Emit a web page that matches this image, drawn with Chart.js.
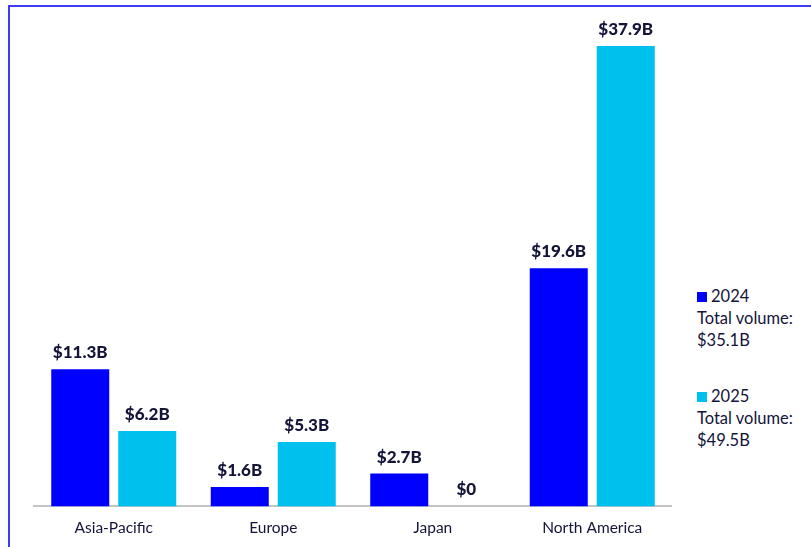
<!DOCTYPE html>
<html>
<head>
<meta charset="utf-8">
<script src="https://cdn.jsdelivr.net/npm/chart.js@4/dist/chart.umd.min.js"></script>
<style>
  body { margin: 0; background: #fff; font-family: "Lato", sans-serif; color: #14143a; }
  #frame { position: absolute; left: 8px; top: 5px; width: 803px; height: 542px;
           border-top: 2px solid #3c3cf0; border-left: 2px solid #3c3cf0; }
  #wrap { position: absolute; left: 10px; top: 7px; width: 662px; height: 542px; }
  #legend { position: absolute; left: 697px; top: 285px; font-size: 16.5px; line-height: 22px; }
  .item { margin-bottom: 34px; }
  .sw { display: inline-block; width: 10px; height: 10px; margin-right: 4px; }
</style>
</head>
<body>
<div id="frame"></div>
<div id="wrap"><canvas id="chart"></canvas></div>
<div id="legend"></div>
<script>
const regions = ['Asia-Pacific', 'Europe', 'Japan', 'North America'];
const years = ['2024', '2025'];
const values2024 = [11.3, 1.6, 2.7, 19.6];
const values2025 = [6.2, 5.3, 0, 37.9];
const totals = ['$35.1B', '$49.5B'];
const colors = ['#0000ff', '#00c0ee'];

function fmt(v) {
    return v === 0 ? '$0' : '$' + v.toFixed(1) + 'B';
}

// legend on the right
const legend = document.getElementById('legend');
years.forEach((y, i) => {
    const div = document.createElement('div');
    div.className = 'item';
    div.innerHTML = '<div><span class="sw" style="background:' + colors[i] + '"></span>' + y + '</div>' +
        '<div>Total volume:</div><div>' + totals[i] + '</div>';
    legend.appendChild(div);
});

const valueLabels = {
    id: 'valueLabels',
    afterDatasetsDraw(chart) {
        const ctx = chart.ctx;
        ctx.save();
        ctx.font = '900 17px Lato, sans-serif';
        ctx.fillStyle = '#14143a';
        ctx.textAlign = 'center';
        ctx.textBaseline = 'bottom';
        chart.data.datasets.forEach((ds, i) => {
            chart.getDatasetMeta(i).data.forEach((bar, j) => {
                ctx.fillText(fmt(ds.data[j]), bar.x, bar.y - 8);
            });
        });
        ctx.restore();
    }
};

const ctx = document.getElementById('chart').getContext('2d');
new Chart(ctx, {
    type: 'bar',
    data: {
        labels: regions,
        datasets: [
            { label: years[0], data: values2024, backgroundColor: colors[0] },
            { label: years[1], data: values2025, backgroundColor: colors[1] }
        ]
    },
    options: {
        responsive: true,
        maintainAspectRatio: false,
        animation: false,
        categoryPercentage: 0.84,
        barPercentage: 0.866,
        layout: { padding: { top: 39, left: 24, right: 0, bottom: 0 } },
        plugins: { legend: { display: false }, tooltip: { enabled: false } },
        scales: {
            x: {
                grid: { display: false, drawTicks: false },
                border: { color: '#c4c4c4', width: 2 },
                ticks: { color: '#14143a', font: { family: 'Lato', size: 15.5 }, padding: 12 }
            },
            y: { display: false, min: 0, max: 37.9 }
        }
    },
    plugins: [valueLabels]
});
</script>
</body>
</html>
